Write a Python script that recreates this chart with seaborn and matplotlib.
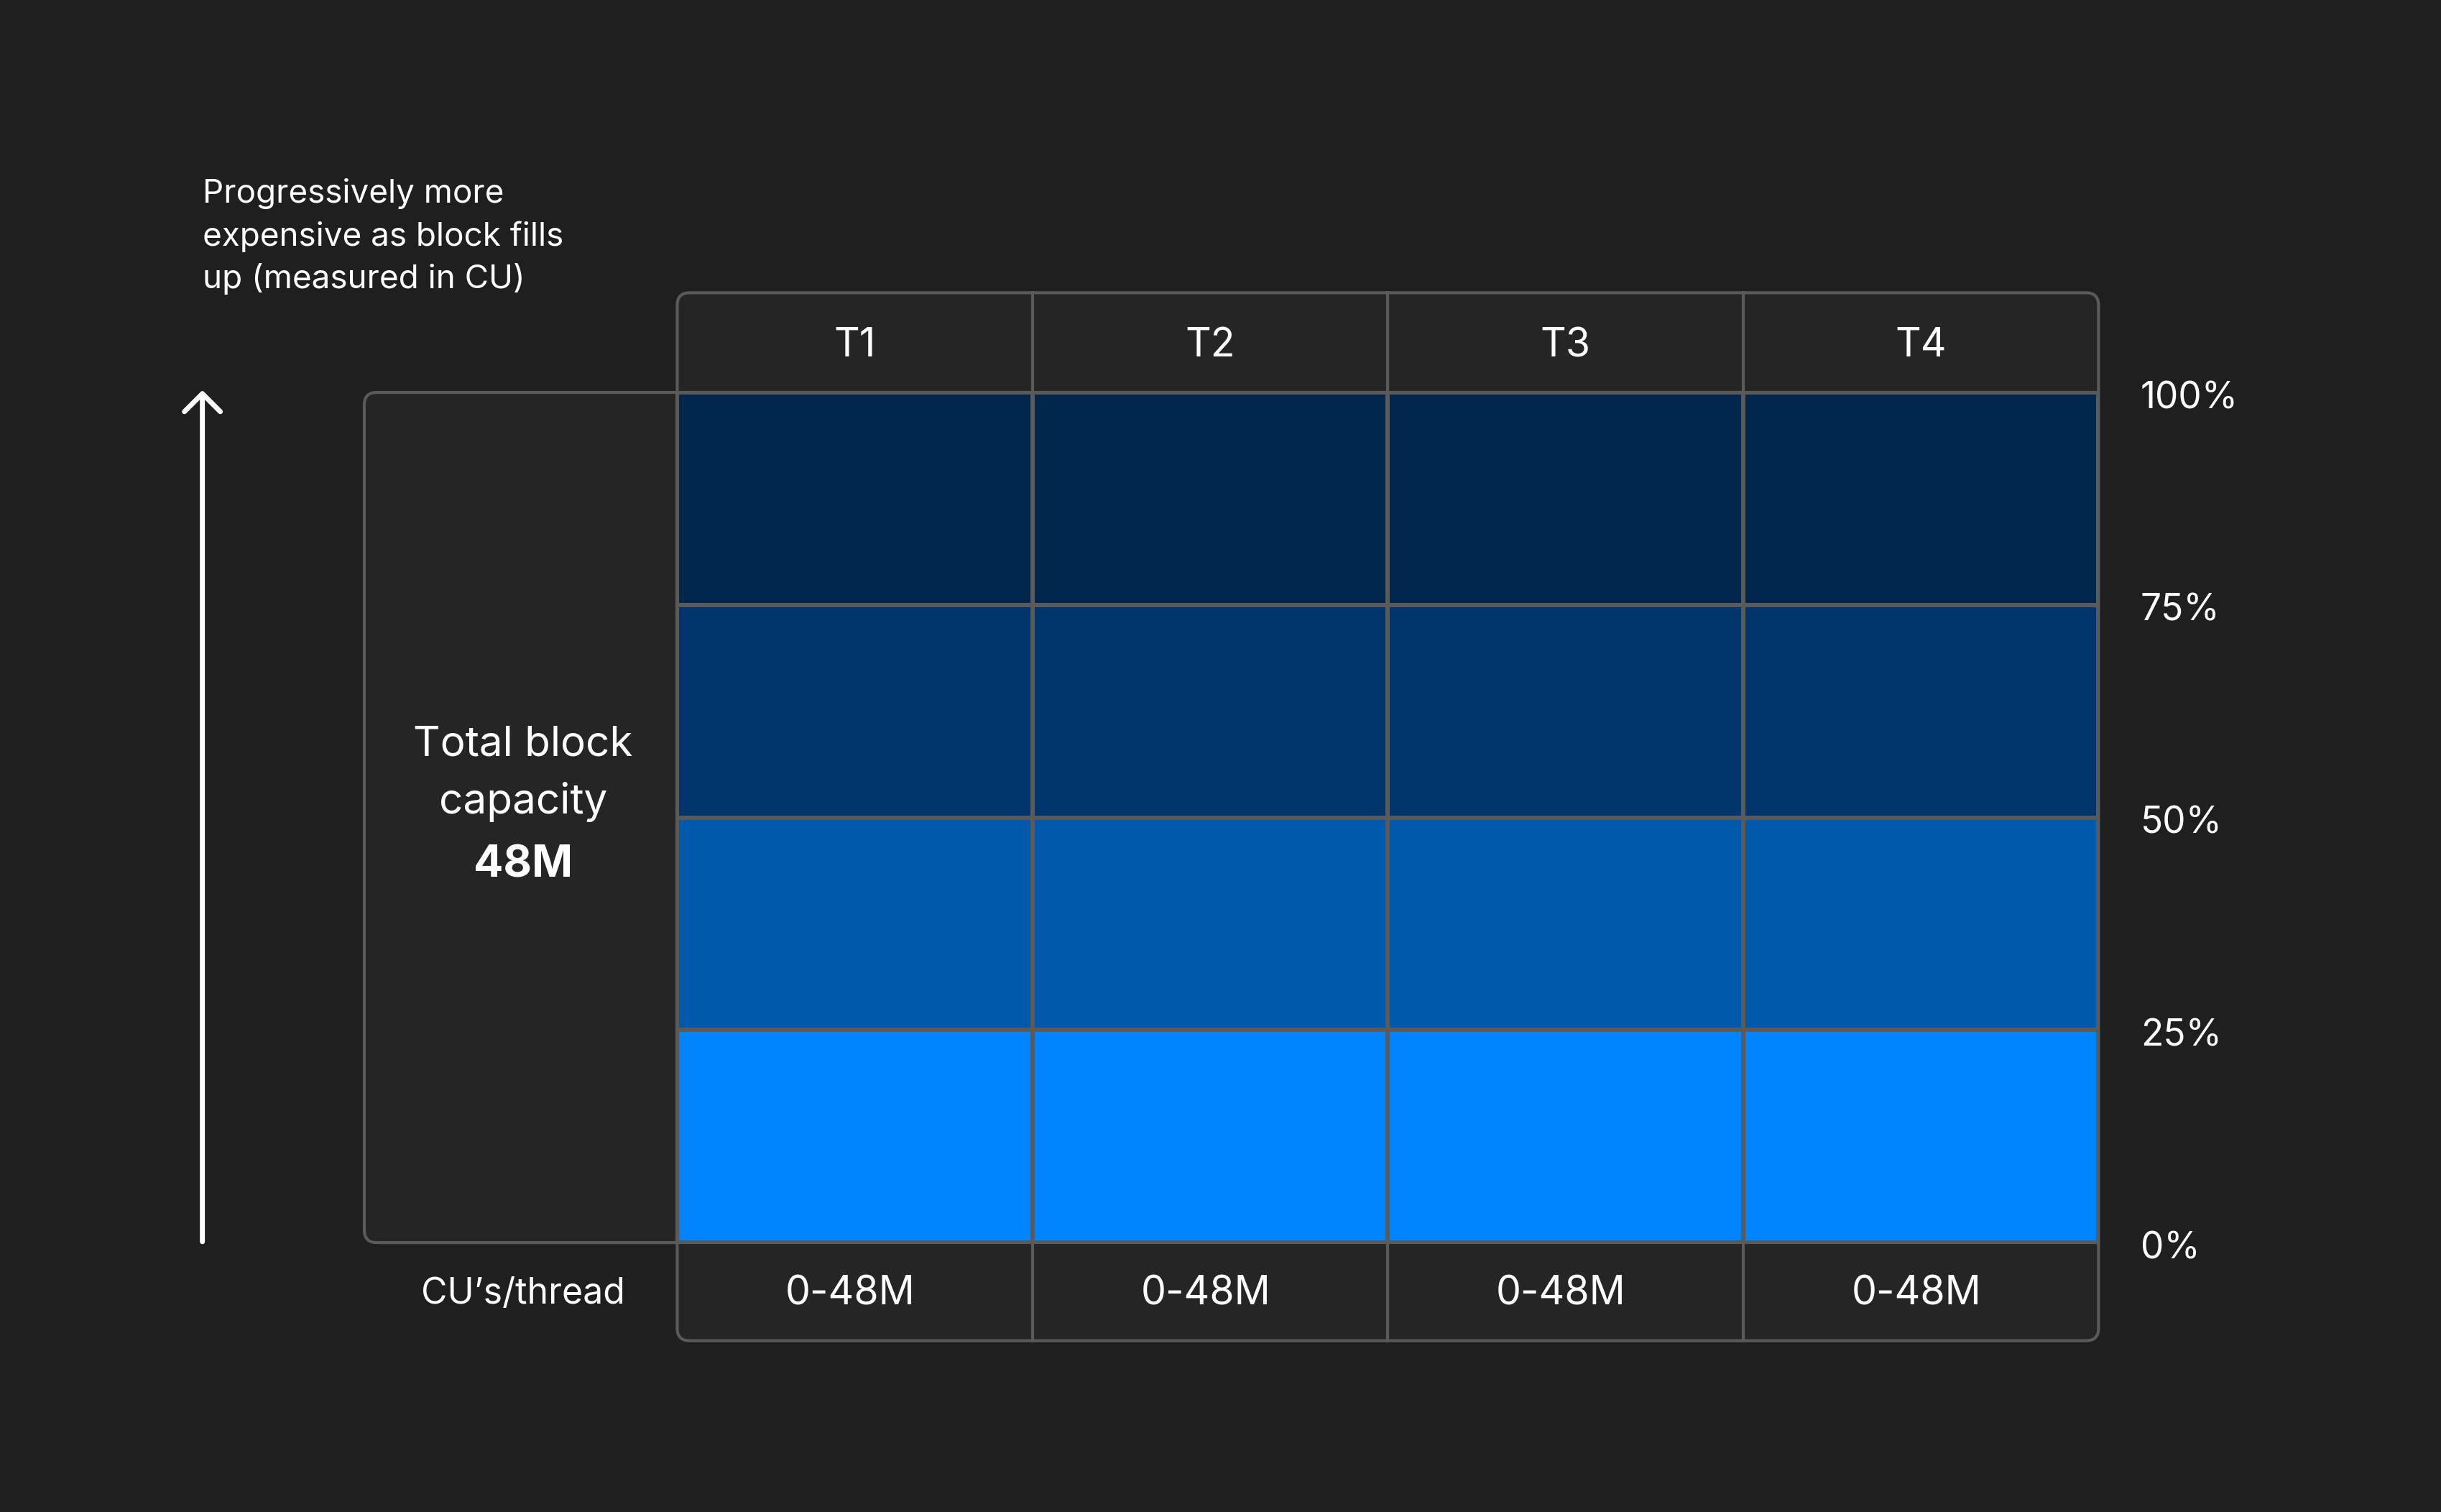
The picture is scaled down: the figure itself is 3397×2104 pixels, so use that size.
import numpy as np
import matplotlib.pyplot as plt
from matplotlib.colors import ListedColormap
from matplotlib.patches import FancyBboxPatch
import seaborn as sns

threads = ['T1', 'T2', 'T3', 'T4']
ranges = ['0-48M', '0-48M', '0-48M', '0-48M']
pct_labels = ['100%', '75%', '50%', '25%', '0%']
# tier por linha (de cima para baixo): 3 = mais caro
tiers = [[3, 3, 3, 3], [2, 2, 2, 2], [1, 1, 1, 1], [0, 0, 0, 0]]
tier_colors = ['#0085ff', '#0059ab', '#00366b', '#00264b']

bg = '#1f1f1f'
cell = '#252525'
edge = '#5a5a5a'
W, H = 1568, 971

plt.rcParams['font.family'] = ['Inter', 'DejaVu Sans']
fig = plt.figure(figsize=(3397 / 200, 2104 / 200), dpi=200, facecolor=bg)

# eixo de fundo em coordenadas de pixel
base = fig.add_axes([0, 0, 1, 1])
base.set_xlim(0, W)
base.set_ylim(H, 0)
base.axis('off')
base.set_facecolor(bg)

x0, x1 = 435, 1348
y0, y1 = 252, 798
cw = (x1 - x0) / 4

# caixa lateral
base.add_patch(FancyBboxPatch((234, y0), 260, y1 - y0, boxstyle='round,pad=0,rounding_size=8',
                              fc=cell, ec=edge, lw=1.5))
# cabeçalho e rodapé
base.add_patch(FancyBboxPatch((x0, 188), x1 - x0, 861 - 188, boxstyle='round,pad=0,rounding_size=8',
                              fc=cell, ec=edge, lw=1.5))
for i in range(1, 4):
    base.plot([x0 + i * cw] * 2, [188, 252], color=edge, lw=1.5)
    base.plot([x0 + i * cw] * 2, [798, 861], color=edge, lw=1.5)
for i, t in enumerate(threads):
    base.text(x0 + (i + 0.5) * cw, 222, t, color='white', fontsize=20, ha='center', va='center')
for i, r in enumerate(ranges):
    base.text(x0 + (i + 0.5) * cw - 3, 831, r, color='white', fontsize=20, ha='center', va='center')

base.text(336, 831, 'CU\u2019s/thread', color='white', fontsize=18, ha='center', va='center')
base.text(336, 497, 'Total block\ncapacity', color='white', fontsize=21, ha='center', va='center',
          linespacing=1.55)
base.text(336, 556, '48M', color='white', fontsize=22, ha='center', va='center', fontweight='bold')

for k, p in enumerate(pct_labels):
    base.text(1375, y0 + 4 + k * (y1 - y0) / 4, p, color='white', fontsize=18.5, ha='left', va='center')

base.text(130, 152, 'Progressively more\nexpensive as block fills\nup (measured in CU)',
          color='white', fontsize=16.5, ha='left', va='center', linespacing=1.45)
base.annotate('', xy=(130, 248), xytext=(130, 800),
              arrowprops=dict(arrowstyle='->,head_width=0.9,head_length=0.9', color='white', lw=2.5))

# heatmap
hm = fig.add_axes([x0 / W, 1 - y1 / H, (x1 - x0) / W, (y1 - y0) / H])
sns.heatmap(np.array(tiers), cmap=ListedColormap(tier_colors), vmin=-0.5, vmax=3.5, cbar=False,
            linewidths=1.5, linecolor=edge, ax=hm)
hm.set_xticks([])
hm.set_yticks([])
for s in hm.spines.values():
    s.set_visible(True)
    s.set_color(edge)
    s.set_linewidth(1.5)

fig.savefig('out.png', dpi=200, facecolor=bg)
